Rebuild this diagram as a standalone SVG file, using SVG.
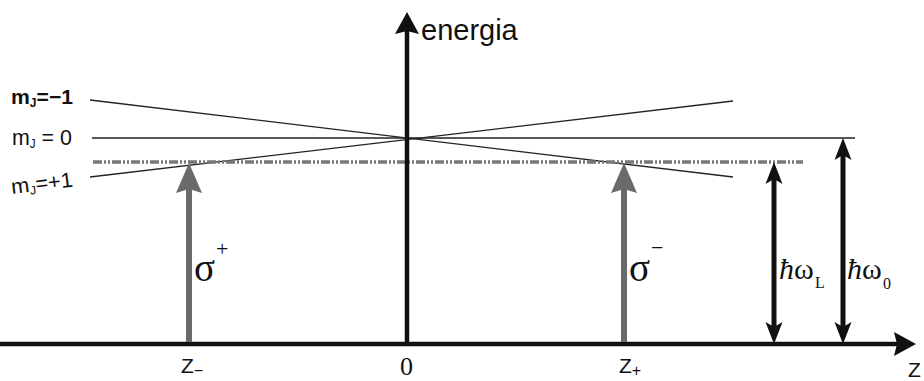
<svg xmlns="http://www.w3.org/2000/svg" width="924" height="381" viewBox="0 0 924 381">
<style>
  .sans { font-family: "Liberation Sans", Arial, sans-serif; fill: #111; }
  .serif { font-family: "Liberation Serif", "Times New Roman", serif; fill: #111; }
  .level { stroke: #222; stroke-width: 1.3; fill: none; }
  .axis { stroke: #111; stroke-width: 4.5; fill: none; }
  .photon { stroke: #6a6a6a; stroke-width: 6; fill: none; }
  .gap { stroke: #111; stroke-width: 5; fill: none; }
  .laser { stroke: #777; stroke-width: 3.5; fill: none; stroke-dasharray: 9 2 2 2 2 2; }
</style>
<defs>
  <marker id="axHead" markerUnits="userSpaceOnUse" markerWidth="22" markerHeight="24" refX="8" refY="12" orient="auto" overflow="visible">
    <path d="M22,12 L0,0 L3,12 L0,24 Z" fill="#111"/>
  </marker>
  <marker id="phHead" markerUnits="userSpaceOnUse" markerWidth="30" markerHeight="26" refX="18" refY="13" orient="auto" overflow="visible">
    <path d="M30,13 L0,0 L4,13 L0,26 Z" fill="#6a6a6a"/>
  </marker>
  <marker id="dblHead" markerUnits="userSpaceOnUse" markerWidth="22" markerHeight="17" refX="14" refY="8.5" orient="auto-start-reverse" overflow="visible">
    <path d="M22,8.5 L0,0 L5,8.5 L0,17 Z" fill="#111"/>
  </marker>
</defs>

<g id="levels">
  <line class="level" x1="90" y1="100" x2="733" y2="177"/>
  <line class="level" x1="92" y1="138" x2="855" y2="138"/>
  <line class="level" x1="90" y1="177" x2="733" y2="101"/>
  <line class="laser" x1="93" y1="162" x2="803" y2="162"/>
</g>

<g id="connectors">
  <line class="axis" x1="0" y1="344" x2="902" y2="344" marker-end="url(#axHead)"/>
  <line class="axis" x1="407" y1="346" x2="407" y2="26" marker-end="url(#axHead)"/>
  <line class="photon" x1="189" y1="342" x2="189" y2="175" marker-end="url(#phHead)"/>
  <line class="photon" x1="624" y1="342" x2="624" y2="175" marker-end="url(#phHead)"/>
  <line class="gap" x1="774" y1="336" x2="774" y2="170" marker-start="url(#dblHead)" marker-end="url(#dblHead)"/>
  <line class="gap" x1="843" y1="336" x2="843" y2="146" marker-start="url(#dblHead)" marker-end="url(#dblHead)"/>
</g>

<g id="level-labels">
  <text class="sans" x="11" y="104" font-size="21" font-weight="bold" textLength="62" lengthAdjust="spacingAndGlyphs">m<tspan font-size="12" dy="3">J</tspan><tspan dy="-3">=−1</tspan></text>
  <text class="sans" x="12" y="145" font-size="22" textLength="60" lengthAdjust="spacingAndGlyphs">m<tspan font-size="12" dy="3">J</tspan><tspan dy="-3"> = 0</tspan></text>
  <text class="sans" x="12" y="194" font-size="21" textLength="62" lengthAdjust="spacingAndGlyphs" transform="rotate(-7 12 194)">m<tspan font-size="12" dy="3">J</tspan><tspan dy="-3">=+1</tspan></text>
</g>

<g id="energia-label">
  <text class="sans" x="421" y="40" font-size="29">energia</text>
</g>

<g id="sigma-plus">
  <text class="serif" x="194" y="281" font-size="39">σ</text>
  <text class="serif" x="216" y="256" font-size="22">+</text>
</g>
<g id="sigma-minus">
  <text class="serif" x="629" y="281" font-size="39">σ</text>
  <text class="serif" x="651" y="255" font-size="22">−</text>
</g>

<g id="hw-L">
  <text class="serif" x="779" y="279" font-size="30"><tspan font-style="italic">ħ</tspan>ω</text>
  <text class="serif" x="815" y="288" font-size="16">L</text>
</g>
<g id="hw-0">
  <text class="serif" x="847" y="279" font-size="30"><tspan font-style="italic">ħ</tspan>ω</text>
  <text class="serif" x="883" y="289" font-size="16">0</text>
</g>

<g id="axis-labels">
  <text class="sans" x="181" y="373" font-size="21">Z<tspan font-size="16" dy="3">−</tspan></text>
  <text class="serif" x="400" y="375" font-size="26">0</text>
  <text class="sans" x="619" y="373" font-size="21">Z<tspan font-size="16" dy="3">+</tspan></text>
  <text class="sans" x="908" y="377" font-size="21">Z</text>
</g>
</svg>
